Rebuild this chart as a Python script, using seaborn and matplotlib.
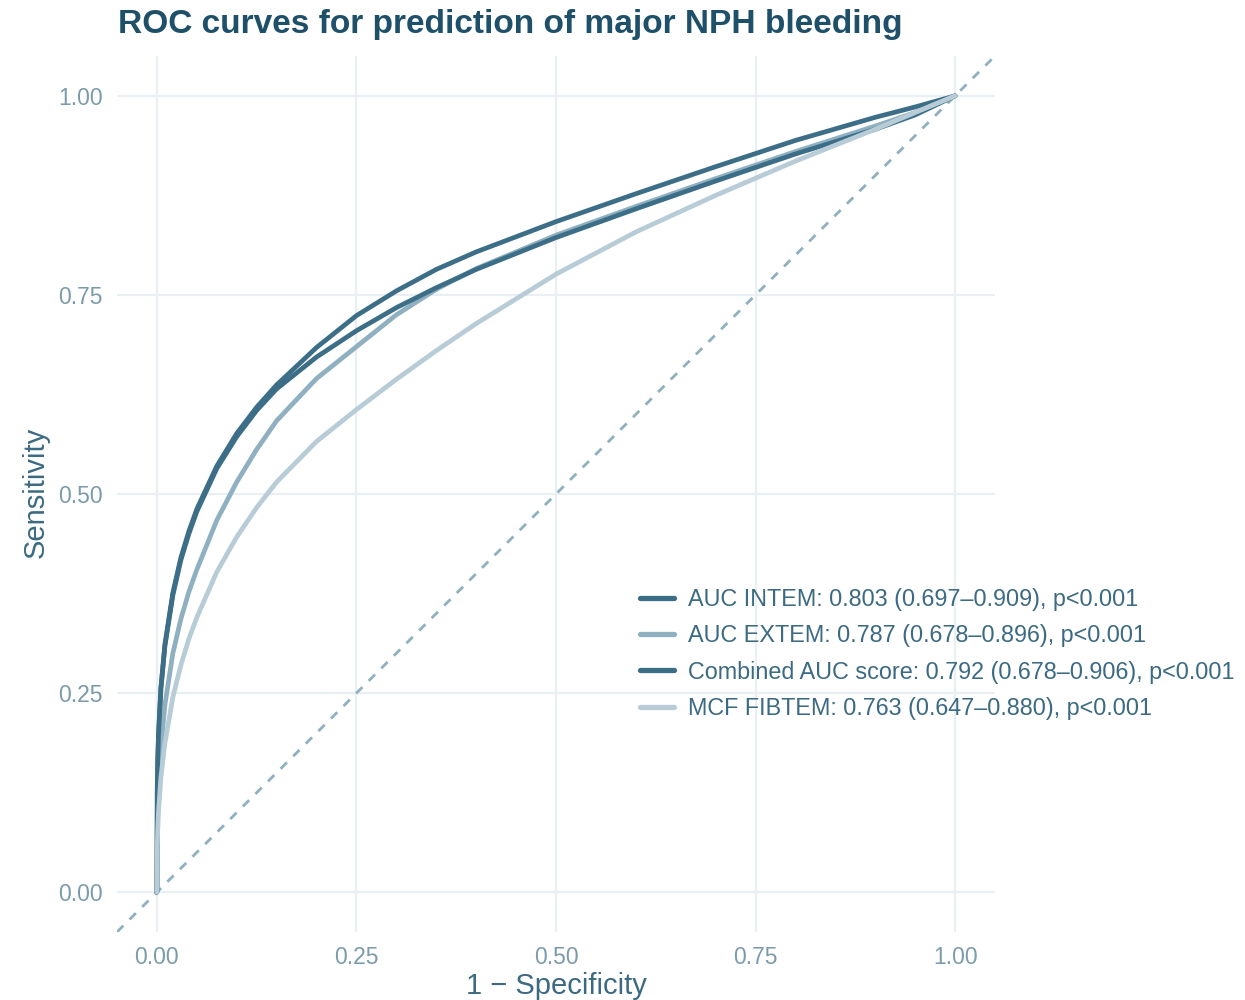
import numpy as np
import pandas as pd
import matplotlib
matplotlib.use("Agg")
import matplotlib.pyplot as plt
from matplotlib.lines import Line2D
import seaborn as sns

# ---- data ----
fpr = [0.0, 0.0005, 0.001, 0.002, 0.005, 0.01, 0.02, 0.03, 0.04, 0.05, 0.075, 0.1, 0.125, 0.15,
       0.2, 0.25, 0.3, 0.35, 0.4, 0.5, 0.6, 0.7, 0.8, 0.9, 0.95, 1.0]
tpr_intem = [0.0, 0.130, 0.160, 0.196, 0.256, 0.311, 0.376, 0.420, 0.453, 0.481, 0.535, 0.576, 0.609, 0.637,
             0.684, 0.724, 0.755, 0.782, 0.804, 0.842, 0.877, 0.911, 0.944, 0.973, 0.986, 1.0]
tpr_extem = [0.0, 0.080, 0.100, 0.130, 0.180, 0.235, 0.300, 0.343, 0.377, 0.405, 0.467, 0.515, 0.556, 0.592,
             0.645, 0.685, 0.725, 0.757, 0.783, 0.825, 0.861, 0.896, 0.930, 0.962, 0.979, 1.0]
tpr_combined = [0.0, 0.135, 0.163, 0.198, 0.256, 0.309, 0.373, 0.417, 0.450, 0.478, 0.532, 0.572, 0.605, 0.632,
                0.672, 0.705, 0.734, 0.759, 0.782, 0.822, 0.858, 0.893, 0.927, 0.958, 0.976, 1.0]
tpr_fibtem = [0.0, 0.060, 0.077, 0.101, 0.144, 0.187, 0.245, 0.285, 0.318, 0.345, 0.402, 0.446, 0.483, 0.515,
              0.566, 0.606, 0.644, 0.680, 0.714, 0.776, 0.829, 0.875, 0.918, 0.958, 0.979, 1.0]

labels = ["AUC INTEM: 0.803 (0.697\u20130.909), p<0.001",
          "AUC EXTEM: 0.787 (0.678\u20130.896), p<0.001",
          "Combined AUC score: 0.792 (0.678\u20130.906), p<0.001",
          "MCF FIBTEM: 0.763 (0.647\u20130.880), p<0.001"]
series = [tpr_intem, tpr_extem, tpr_combined, tpr_fibtem]
colors = ["#3d6e88", "#8fb0c0", "#3d6e88", "#b7ccd6"]

title = "ROC curves for prediction of major NPH bleeding"
xlab = "1 \u2212 Specificity"
ylab = "Sensitivity"
ticks = [0.0, 0.25, 0.5, 0.75, 1.0]
tick_labels = ["0.00", "0.25", "0.50", "0.75", "1.00"]

rows = []
for lab, s in zip(labels, series):
    for f, t in zip(fpr, s):
        rows.append({"fpr": f, "tpr": t, "model": lab})
df = pd.DataFrame(rows)

sns.set_theme(style="white")
plt.rcParams["font.family"] = ["Liberation Sans", "DejaVu Sans"]

W, H = 1245, 1000
fig = plt.figure(figsize=(W / 100, H / 100), dpi=100)
ax = fig.add_axes([117 / W, 1 - 932 / H, (995 - 117) / W, (932 - 56) / H])

grid_c = "#e9eff2"
for t in ticks:
    ax.axvline(t, color=grid_c, lw=1.6, zorder=0)
    ax.axhline(t, color=grid_c, lw=1.6, zorder=0)

ax.plot([-0.05, 1.05], [-0.05, 1.05], ls=(0, (3.2, 3.2)), color="#8eb0bf", lw=2.0, zorder=1)

sns.lineplot(data=df, x="fpr", y="tpr", hue="model", hue_order=labels,
             palette=dict(zip(labels, colors)), linewidth=3.4, ax=ax,
             estimator=None, sort=False, legend=False, zorder=3)
for ln in ax.lines[-4:]:
    ln.set_solid_joinstyle("round")

ax.set_xlim(-0.05, 1.05)
ax.set_ylim(-0.05, 1.05)
ax.set_xticks(ticks)
ax.set_yticks(ticks)
ax.set_xticklabels(tick_labels)
ax.set_yticklabels(tick_labels)
tick_c = "#7b9bab"
ax.tick_params(axis="both", length=0, labelsize=16.5, labelcolor=tick_c)
ax.tick_params(axis="x", pad=10)
ax.tick_params(axis="y", pad=10)
for sp in ax.spines.values():
    sp.set_visible(False)
ax.set_xlabel("")
ax.set_ylabel("")

lab_c = "#3b6a82"
fig.text(556 / W, 1 - 986 / H, xlab, ha="center", va="center", fontsize=21, color=lab_c)
fig.text(36 / W, 1 - 492 / H, ylab, ha="center", va="center", fontsize=21, color=lab_c, rotation=90)
fig.text(118 / W, 1 - 33 / H, title, ha="left", va="baseline", fontsize=24.1,
         fontweight="bold", color="#1f5069")

handles = [Line2D([0], [0], color=c, lw=3.8, solid_capstyle="round") for c in colors]
leg = fig.legend(handles, labels, loc="upper left", bbox_to_anchor=(640 / W, 1 - 588 / H),
                 frameon=False, fontsize=16.8, handlelength=1.45, handletextpad=0.62,
                 labelspacing=0.57, borderaxespad=0, borderpad=0)
for txt in leg.get_texts():
    txt.set_color("#3b6a82")

fig.savefig("out.png", dpi=100)
